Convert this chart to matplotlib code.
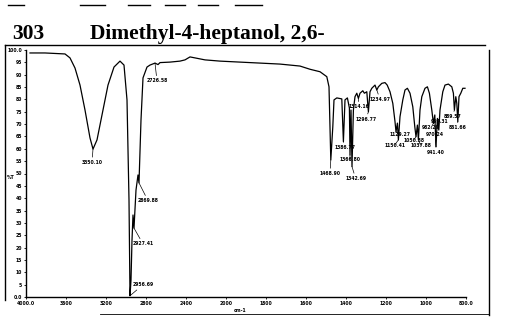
import numpy as np
import matplotlib
matplotlib.use("Agg")
import matplotlib.pyplot as plt

# spectrum trace (wavenumber cm-1, %T)
wavenumber = [3960, 3810, 3610, 3560, 3510, 3460, 3410, 3360, 3330, 3290, 3240, 3180,
              3120, 3060, 3020, 2990, 2970, 2960, 2950, 2940, 2930, 2920, 2900, 2880,
              2870, 2850, 2830, 2790, 2760, 2710, 2680, 2660, 2560, 2460, 2410, 2360,
              2310, 2210, 2060, 1930, 1830, 1730, 1630, 1580, 1530, 1496, 1485, 1476,
              1466, 1460, 1446, 1421, 1413, 1405, 1393, 1383, 1380, 1375, 1370, 1363,
              1355, 1346, 1338, 1330, 1316, 1308, 1296, 1288, 1280, 1271, 1255, 1246,
              1238, 1221, 1205, 1194, 1180, 1166, 1155, 1150, 1143, 1138, 1130, 1116,
              1105, 1093, 1080, 1066, 1056, 1050, 1043, 1038, 1030, 1021, 1005, 993,
              983, 971, 963, 956, 950, 943, 936, 930, 916, 905, 888, 871,
              863, 858, 851, 846, 841, 835, 826, 816, 805]
transmittance = [98.8, 98.8, 98.4, 96.8, 92.7, 85.8, 75.7, 64.4, 59.9, 63.6, 73.7, 85.8,
                 93.1, 95.5, 93.9, 79.8, 39.3, 0.5, 6.9, 23.0, 33.2, 27.9, 43.3, 49.4,
                 46.2, 71.7, 88.7, 93.1, 93.9, 94.7, 94.1, 94.9, 95.1, 95.5, 96.0, 97.2,
                 96.8, 96.0, 95.5, 95.1, 94.7, 94.3, 93.5, 92.2, 91.2, 89.2, 85.1, 55.5,
                 68.9, 79.8, 80.6, 80.2, 62.9, 79.8, 80.6, 76.5, 57.5, 75.7, 52.8, 75.7,
                 81.1, 82.5, 80.4, 82.5, 83.5, 82.5, 83.1, 75.0, 83.1, 84.5, 85.8, 83.8,
                 85.1, 86.5, 86.8, 85.8, 83.1, 78.4, 71.0, 66.9, 70.4, 63.6, 73.0, 79.8,
                 83.8, 84.5, 82.5, 77.0, 68.9, 64.9, 69.6, 63.6, 75.7, 81.1, 84.5, 85.1,
                 82.5, 75.7, 70.3, 73.7, 60.9, 72.3, 67.6, 75.7, 83.1, 85.8, 86.2, 85.1,
                 82.5, 75.7, 81.1, 78.4, 71.0, 81.1, 82.5, 84.5, 84.5]

# peak labels: text, label position (cm-1, %T), peak point it points at
peak_text = ["3350.10", "2956.69", "2927.41", "2869.88", "2726.58", "1468.90",
             "1386.77", "1366.80", "1342.69", "1314.16", "1296.77", "1234.97",
             "1150.41", "1129.27", "1050.38", "1037.88", "982.29", "970.24",
             "959.31", "941.40", "889.57", "861.66"]
peak_label_w = [3340, 2830, 2830, 2780, 2690, 1480, 1405, 1380, 1352, 1335, 1300, 1230,
                1157, 1132, 1062, 1027, 975, 955, 930, 952, 868, 843]
peak_label_t = [55.5, 6.0, 22.5, 40.0, 88.5, 51.0, 61.5, 56.5, 49.0, 78.0, 73.0, 81.0,
                62.5, 67.0, 64.5, 62.5, 69.5, 67.0, 72.0, 59.5, 74.0, 69.5]
peak_w = [3330, 2960, 2920, 2870, 2710, 1476, 1413, 1380, 1370, 1338, 1288, 1246,
          1138, 1150, 1050, 1038, 963, 950, 943, 950, 858, 841]
peak_t = [59.9, 0.5, 27.9, 46.2, 94.7, 55.5, 62.9, 57.5, 52.8, 80.4, 75.0, 83.8,
          63.6, 66.9, 64.9, 63.6, 70.3, 60.9, 72.3, 60.9, 75.7, 71.0]

x_ticks = [4000, 3600, 3200, 2800, 2400, 2000, 1800, 1600, 1400, 1200, 1000, 800]
x_tick_labels = ["4000.0", "3600", "3200", "2800", "2400", "2000", "1800", "1600",
                 "1400", "1200", "1000", "800.0"]
y_ticks = list(range(0, 101, 5))
y_tick_labels = ["0.0"] + [str(v) for v in range(5, 100, 5)] + ["100.0"]


# half scale above 2000 cm-1
def fwd(w):
    w = np.asarray(w, dtype=float)
    return np.where(w <= 2000, w, 2000 + (w - 2000) / 2)


def inv(u):
    u = np.asarray(u, dtype=float)
    return np.where(u <= 2000, u, 2000 + 2 * (u - 2000))


W, H = 509, 317
fig = plt.figure(figsize=(W / 100, H / 100), dpi=100)
ax = fig.add_axes([26 / W, 1 - 297 / H, 440 / W, 247 / H])
ax.set_xscale("function", functions=(fwd, inv))
ax.set_xlim(4000, 800)
ax.set_ylim(0, 100)

ax.plot(wavenumber, transmittance, color="black", lw=0.9)

small = dict(fontsize=3.3, fontweight="bold", color="black")
for txt, lw_, lt, pw, pt in zip(peak_text, peak_label_w, peak_label_t, peak_w, peak_t):
    ax.annotate(txt, xy=(pw, pt), xytext=(lw_, lt), ha="center", va="top",
                arrowprops=dict(arrowstyle="-", lw=0.5, color="black",
                                shrinkA=0, shrinkB=0), **small)

ax.set_xticks(x_ticks)
ax.set_xticklabels(x_tick_labels, **small)
ax.set_yticks(y_ticks)
ax.set_yticklabels(y_tick_labels, **small)
ax.tick_params(length=1.5, width=0.6, pad=1.5)
ax.minorticks_off()
for s in ["top", "right"]:
    ax.spines[s].set_visible(False)
for s in ["left", "bottom"]:
    ax.spines[s].set_linewidth(1.0)

fig.text(7 / W, 1 - 178 / H, "%T", ha="left", va="center", **small)
fig.text(240 / W, 1 - 311 / H, "cm-1", ha="center", va="center", **small)

# title
fig.text(12 / W, 1 - 39 / H, "303", family="Liberation Serif", fontweight="bold",
         fontsize=15.5, va="baseline", ha="left")
fig.text(90 / W, 1 - 39 / H, "Dimethyl-4-heptanol, 2,6-", family="Liberation Serif",
         fontweight="bold", fontsize=15.5, va="baseline", ha="left")

# scanned page frame and stray marks
frame = dict(color="black", lw=1.0, transform=fig.transFigure)
fig.add_artist(plt.Line2D([5 / W, 485 / W], [1 - 45 / H, 1 - 45 / H], **frame))
fig.add_artist(plt.Line2D([5 / W, 5 / W], [1 - 45 / H, 1 - 300 / H], **frame))
fig.add_artist(plt.Line2D([489 / W, 489 / W], [1 - 50 / H, 1 - 315 / H], **frame))
fig.add_artist(plt.Line2D([100 / W, 489 / W], [1 - 314 / H, 1 - 314 / H], lw=0.6,
                          color="black", transform=fig.transFigure))
for x0, x1 in [(8, 24), (80, 105), (128, 150), (165, 185), (198, 218), (235, 262)]:
    fig.add_artist(plt.Line2D([x0 / W, x1 / W], [1 - 5 / H, 1 - 5 / H], **frame))

fig.savefig("out.png", dpi=100)
